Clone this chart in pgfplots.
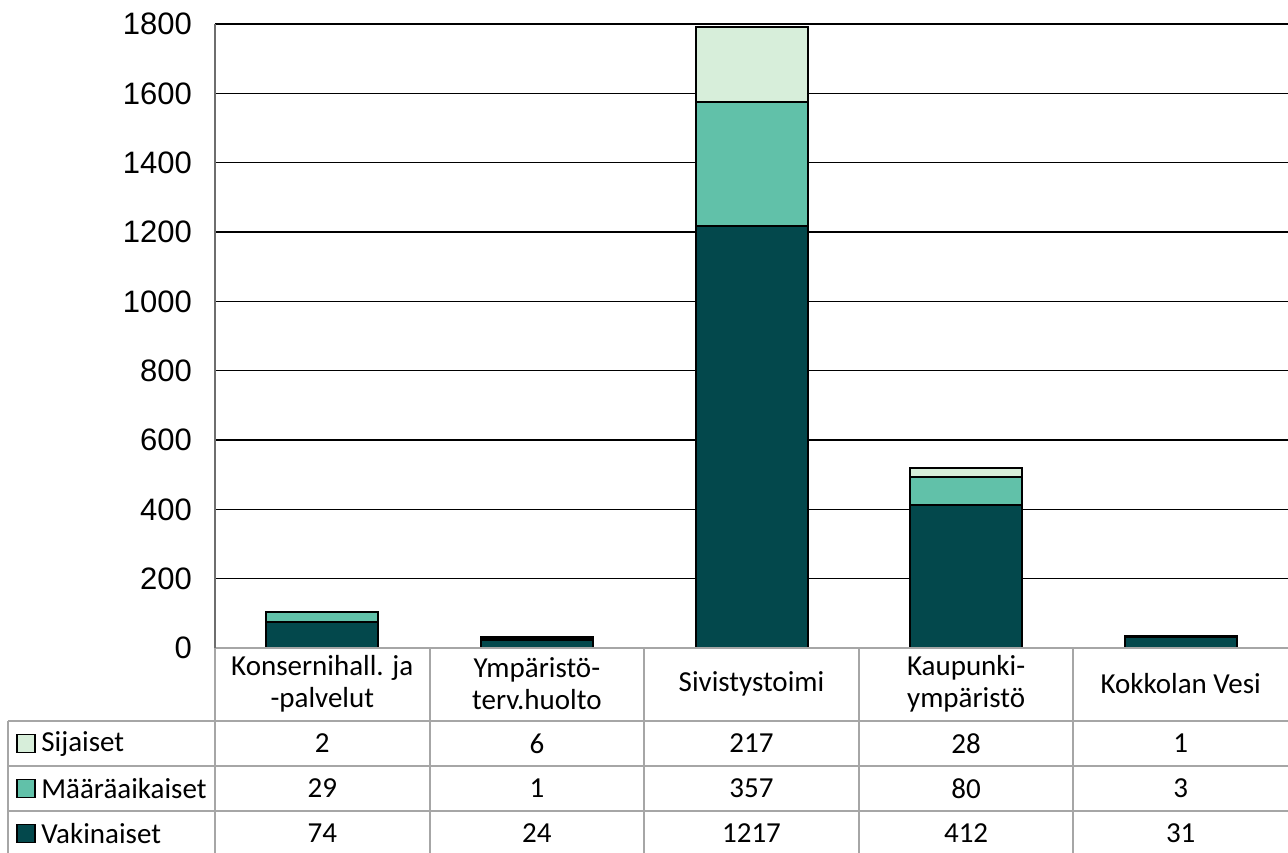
\documentclass[border=0pt]{standalone}
\usepackage{pgfplots}
\pgfplotsset{compat=1.18}
\usepackage{pgfplotstable}
\usepackage{fontspec}
\setmainfont{Carlito}
\newfontfamily\arial{Liberation Sans}

\definecolor{vak}{HTML}{03484C}
\definecolor{maa}{HTML}{61C1A9}
\definecolor{sij}{HTML}{D7EEDA}
\definecolor{tbl}{HTML}{A6A6A6}
\definecolor{yax}{HTML}{6E6E6E}

\pgfplotstableread{
x vak maa sij
0 74 29 2
1 24 1 6
2 1217 357 217
3 412 80 28
4 31 3 1
}\data

\begin{document}
\begin{tikzpicture}
\useasboundingbox (-107.5pt,-102pt) rectangle (536.5pt,324pt);
\begin{axis}[
    name=ax, at={(0,0)}, anchor=south west,
    scale only axis, width=536.5pt, height=312pt,
    ybar stacked, bar width=56pt,
    xmin=-0.5, xmax=4.5, ymin=0, ymax=1800,
    ytick={0,200,...,1800}, xtick=\empty,
    axis x line=none, axis y line*=left,
    y axis line style={draw=yax, line width=1pt, -},
    major tick length=0pt,
    ymajorgrids, grid style={black, line width=0.8pt},
    /pgf/number format/1000 sep={},
    /pgf/number format/assume math mode=true,
    y tick label style={font=\arial\fontsize{15.5}{18}\selectfont, xshift=-8pt},
    clip=false,
]
\addplot[fill=vak, draw=black, line width=1pt] table[x=x,y=vak]{\data};
\addplot[fill=maa, draw=black, line width=1pt] table[x=x,y=maa]{\data};
\addplot[fill=sij, draw=black, line width=1pt] table[x=x,y=sij]{\data};
\end{axis}

% data table under the plot
\begin{scope}[draw=tbl, line width=1pt]
  \draw (0pt,0pt) -- (536.5pt,0pt);
  \foreach \yy in {-36.5,-59,-81.5} \draw (-103.5pt,\yy pt) -- (536.5pt,\yy pt);
  \draw (0pt,0pt) -- (0pt,-104pt);
  \draw (-103.5pt,-36.5pt) -- (-103.5pt,-104pt);
  \foreach \k in {1,...,4} \draw ({\k*107.3pt},0pt) -- ({\k*107.3pt},-104pt);
\end{scope}
\draw[yax, line width=1pt] (0pt,0pt) -- (0pt,312pt);

\begin{scope}[every node/.style={font=\fontsize{14.5}{16}\selectfont, align=center, inner sep=0pt}]
  \node at (53.65pt,-18pt) {Konsernihall. ja\\-palvelut};
  \node at (160.95pt,-18pt) {Ympäristö-\\terv.huolto};
  \node at (268.25pt,-18pt) {Sivistystoimi};
  \node at (375.55pt,-18pt) {Kaupunki-\\ympäristö};
  \node at (482.85pt,-18pt) {Kokkolan Vesi};

  \foreach \r in {0,...,4} {
    \pgfplotstablegetelem{\r}{sij}\of\data
    \node at ({(\r+0.5)*107.3pt},-47.75pt) {\pgfplotsretval};
    \pgfplotstablegetelem{\r}{maa}\of\data
    \node at ({(\r+0.5)*107.3pt},-70.25pt) {\pgfplotsretval};
    \pgfplotstablegetelem{\r}{vak}\of\data
    \node at ({(\r+0.5)*107.3pt},-92.75pt) {\pgfplotsretval};
  }

  \foreach \yy/\c/\t in {-47.75/sij/Sijaiset, -70.25/maa/Määräaikaiset, -92.75/vak/Vakinaiset} {
    \draw[fill=\c, draw=black, line width=0.6pt] (-99pt,\yy pt-4.5pt) rectangle ++(9pt,9pt);
    \node[anchor=west] at (-87pt,\yy pt) {\t};
  }
\end{scope}
\end{tikzpicture}
\end{document}
